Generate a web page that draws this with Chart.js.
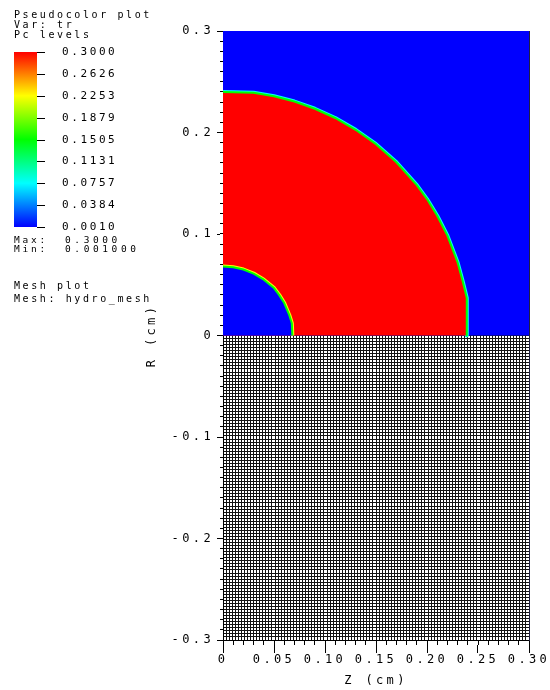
<!DOCTYPE html>
<html><head><meta charset="utf-8">
<script src="https://cdn.jsdelivr.net/npm/chart.js@4.4.1/dist/chart.umd.min.js"></script>
<style>html,body{margin:0;padding:0;background:#fff}#wrap{width:550px;height:690px;position:relative}canvas{display:block}</style>
</head><body><div id="wrap"><canvas id="c" width="550" height="690"></canvas></div>
<script>
// ---- data ----
const zRange = [0, 0.3];
const rRange = [-0.3, 0.3];
const xTickValues = [0, 0.05, 0.10, 0.15, 0.20, 0.25, 0.30];
const xTickLabels = ['0', '0.05', '0.10', '0.15', '0.20', '0.25', '0.30'];
const yTickValues = [-0.3, -0.2, -0.1, 0, 0.1, 0.2, 0.3];
const yTickLabels = ['-0.3', '-0.2', '-0.1', '0', '0.1', '0.2', '0.3'];
const minorStep = 0.01;
const meshStep = 0.003;
// outer boundary of the tr = 0.3 region (z, r)
const outerZ = [0, 0.03, 0.05, 0.07, 0.09, 0.11, 0.13, 0.15, 0.17, 0.19, 0.20, 0.21, 0.22, 0.23, 0.235, 0.239, 0.239];
const outerR = [0.240, 0.2392, 0.2358, 0.2305, 0.2234, 0.2143, 0.2027, 0.1885, 0.1707, 0.1482, 0.1344, 0.118, 0.0984, 0.072, 0.0534, 0.037, 0];
// inner boundary
const innerZ = [0, 0.01, 0.02, 0.03, 0.04, 0.05, 0.055, 0.06, 0.065, 0.0675, 0.068];
const innerR = [0.068, 0.0673, 0.065, 0.061, 0.055, 0.0467, 0.040, 0.032, 0.020, 0.012, 0];
const fieldMax = 0.3;
const fieldMin = 0.001;
const levelLabels = ['0.3000', '0.2626', '0.2253', '0.1879', '0.1505', '0.1131', '0.0757', '0.0384', '0.0010'];
const maxLabel = '0.3000';
const minLabel = '0.001000';

// ---- colour table (VisIt "hot") ----
const hotStops = [[0, [0,0,255]], [0.25, [0,255,255]], [0.5, [0,255,0]], [0.75, [255,255,0]], [1, [255,0,0]]];
function hot(v) {
  const t = Math.max(0, Math.min(1, (v - fieldMin) / (fieldMax - fieldMin)));
  for (let i = 1; i < hotStops.length; i++) {
    if (t <= hotStops[i][0]) {
      const [t0, c0] = hotStops[i-1], [t1, c1] = hotStops[i];
      const f = (t - t0) / (t1 - t0);
      return 'rgb(' + c0.map((c, k) => Math.round(c + (c1[k] - c) * f)).join(',') + ')';
    }
  }
  return 'rgb(255,0,0)';
}
const FONT = '"DejaVu Sans Mono", "Liberation Mono", monospace';
const pts = (zs, rs) => zs.map((z, i) => ({x: z, y: rs[i]}));
const lookup = (v, vals, labels) => { const i = vals.findIndex(a => Math.abs(a - v) < 1e-9); return i >= 0 ? labels[i] : ''; };
const mid = (fieldMax + fieldMin) / 2;

const spacingPlugin = {
  id: 'spacing',
  beforeUpdate(chart) { chart.ctx.letterSpacing = '3.4px'; },
  beforeDraw(chart) { chart.ctx.letterSpacing = '3.4px'; }
};

const legendPlugin = {
  id: 'pcLegend',
  afterDraw(chart) {
    const ctx = chart.ctx;
    ctx.save();
    ctx.textBaseline = 'middle';
    ctx.textAlign = 'left';
    const txt = (s, x, y, size, sp) => {
      ctx.font = size + 'px ' + FONT;
      ctx.letterSpacing = sp + 'px';
      ctx.fillStyle = '#000';
      ctx.fillText(s, x, y);
    };
    txt('Pseudocolor plot', 14, 15, 10, 2.6);
    txt('Var: tr', 14, 25, 10, 2.6);
    txt('Pc levels', 14, 35, 10, 2.6);
    const bx = 14, by = 52, bw = 23, bh = 175;
    const g = ctx.createLinearGradient(0, by + bh, 0, by);
    hotStops.forEach(([t, c]) => g.addColorStop(t, 'rgb(' + c.join(',') + ')'));
    ctx.fillStyle = g;
    ctx.fillRect(bx, by, bw, bh);
    ctx.strokeStyle = '#000';
    ctx.lineWidth = 1;
    levelLabels.forEach((l, i) => {
      const y = Math.round(by + i * bh / (levelLabels.length - 1)) + 0.5;
      ctx.beginPath(); ctx.moveTo(bx + bw, y); ctx.lineTo(bx + bw + 8, y); ctx.stroke();
      txt(l, 62, y, 11, 2.6);
    });
    txt('Max:', 14, 241, 9.5, 2.8);
    txt(maxLabel, 65, 241, 9.5, 3.6);
    txt('Min:', 14, 250, 9.5, 2.8);
    txt(minLabel, 65, 250, 9.5, 3.6);
    txt('Mesh plot', 14, 286, 10, 2.6);
    txt('Mesh: hydro_mesh', 14, 299, 10, 2.6);
    ctx.restore();
  }
};

const hAxis = (extra) => Object.assign({type: 'linear', min: zRange[0], max: zRange[1]}, extra);
const vAxis = (extra) => Object.assign({type: 'linear', min: rRange[0], max: rRange[1]}, extra);
const zeroPad = s => { s.paddingLeft = 0; s.paddingRight = 0; s.paddingTop = 0; s.paddingBottom = 0; };

new Chart(document.getElementById('c'), {
  type: 'line',
  data: {
    datasets: [
      {label: 'inner edge', data: pts(innerZ, innerR), fill: 'origin', backgroundColor: hot(fieldMin), borderColor: hot(mid), borderWidth: 2},
      {label: 'inner halo', data: pts(innerZ, innerR), fill: false, borderColor: hot(0.75 * fieldMax), borderWidth: 4},
      {label: 'outer edge', data: pts(outerZ, outerR), fill: 'origin', backgroundColor: hot(fieldMax), borderColor: hot(mid), borderWidth: 2},
      {label: 'outer halo', data: pts(outerZ, outerR), fill: false, borderColor: hot(0.25 * fieldMax), borderWidth: 4},
      {label: 'background', data: pts(zRange, [rRange[1], rRange[1]]), fill: 'origin', backgroundColor: hot(fieldMin), borderWidth: 0}
    ]
  },
  options: {
    responsive: false,
    animation: false,
    devicePixelRatio: 1,
    layout: {padding: {left: 141, top: 31, right: 21, bottom: 0}},
    datasets: {line: {pointRadius: 0, pointHoverRadius: 0, tension: 0, clip: 0, borderJoinStyle: 'round', borderCapStyle: 'butt'}},
    plugins: {legend: {display: false}, tooltip: {enabled: false}},
    events: [],
    scales: {
      x: hAxis({position: 'bottom', weight: 1, z: 1,
        ticks: {stepSize: 0.05, autoSkip: false, maxRotation: 0, padding: 0, color: '#000', font: {family: FONT, size: 12},
          callback: v => lookup(v, xTickValues, xTickLabels)},
        grid: {drawOnChartArea: false, drawTicks: true, tickLength: 8, color: '#000', lineWidth: 1},
        border: {display: false},
        title: {display: true, text: 'Z (cm)', color: '#000', font: {family: FONT, size: 12}, padding: {top: 0, bottom: 2}},
        afterFit: s => { s.height = 45; zeroPad(s); }}),
      xMinor: hAxis({position: 'bottom', weight: 0, z: 1,
        ticks: {display: false, stepSize: minorStep, autoSkip: false},
        grid: {drawOnChartArea: false, drawTicks: true, tickLength: 5, color: '#000', lineWidth: 1},
        border: {display: true, color: '#000'},
        afterFit: s => { s.height = 5; zeroPad(s); }}),
      xMesh: hAxis({position: 'top', weight: 0, z: 0,
        ticks: {display: false, stepSize: meshStep, autoSkip: false},
        grid: {drawOnChartArea: true, drawTicks: false, color: '#111', lineWidth: 1},
        border: {display: false},
        afterFit: s => { s.height = 0; zeroPad(s); }}),
      xTop: hAxis({position: 'top', weight: 1, z: 1,
        ticks: {display: false, stepSize: 0.1},
        grid: {drawOnChartArea: false, drawTicks: false},
        border: {display: true, color: '#202040'},
        afterFit: s => { s.height = 0; zeroPad(s); }}),
      y: vAxis({position: 'left', weight: 1, z: 1,
        ticks: {stepSize: 0.1, autoSkip: false, padding: 3, color: '#000', font: {family: FONT, size: 12},
          callback: v => lookup(v, yTickValues, yTickLabels)},
        grid: {drawOnChartArea: false, drawTicks: true, tickLength: 3, color: '#000', lineWidth: 1},
        border: {display: false},
        title: {display: true, text: 'R (cm)', color: '#000', font: {family: FONT, size: 12}, padding: {top: 4, bottom: 0}},
        afterFit: s => { s.width = 79; zeroPad(s); }}),
      yMinor: vAxis({position: 'left', weight: 0, z: 1,
        ticks: {display: false, stepSize: minorStep, autoSkip: false},
        grid: {drawOnChartArea: false, drawTicks: true, tickLength: 3, color: '#000', lineWidth: 1},
        border: {display: true, color: '#000'},
        afterFit: s => { s.width = 3; zeroPad(s); }}),
      yMesh: vAxis({position: 'right', weight: 0, z: 0,
        ticks: {display: false, stepSize: meshStep, autoSkip: false},
        grid: {drawOnChartArea: true, drawTicks: false, color: '#111', lineWidth: 1},
        border: {display: false},
        afterFit: s => { s.width = 0; zeroPad(s); }}),
      yRight: vAxis({position: 'right', weight: 1, z: 1,
        ticks: {display: false, stepSize: 0.1},
        grid: {drawOnChartArea: false, drawTicks: false},
        border: {display: true, color: '#202040'},
        afterFit: s => { s.width = 0; zeroPad(s); }})
    }
  },
  plugins: [spacingPlugin, legendPlugin]
});
</script>
</body></html>
